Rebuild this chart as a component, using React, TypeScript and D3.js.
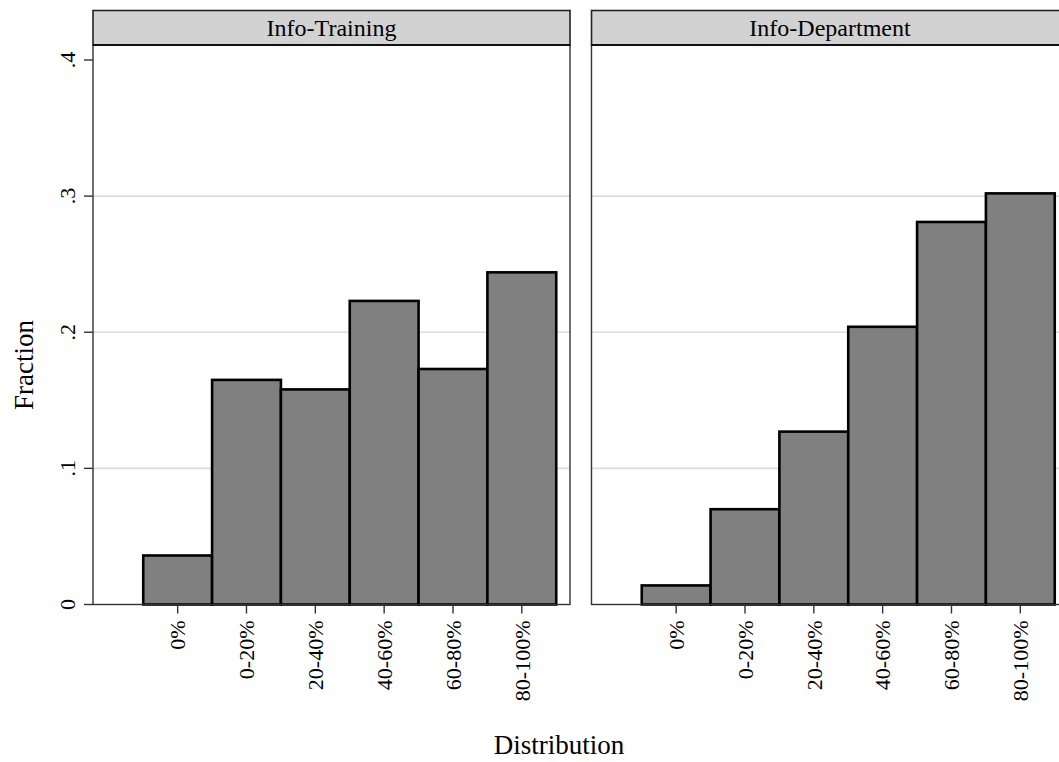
import React from "react";
import * as d3 from "d3";

const categories = ["0%", "0-20%", "20-40%", "40-60%", "60-80%", "80-100%"];
const trainingValues = [0.036, 0.165, 0.158, 0.223, 0.173, 0.244];
const departmentValues = [0.014, 0.07, 0.127, 0.204, 0.281, 0.302];
const panelTitles = ["Info-Training", "Info-Department"];
const yTicks = [0, 0.1, 0.2, 0.3, 0.4];
const yTickLabels = ["0", ".1", ".2", ".3", ".4"];
const gridTicks = [0.1, 0.2, 0.3];

const W = 1059;
const H = 762;
const FONT = "'Liberation Serif', 'Times New Roman', serif";

const panels = [
  { x0: 93, x1: 570, title: panelTitles[0], values: trainingValues, axis: true },
  { x0: 591.5, x1: 1068.5, title: panelTitles[1], values: departmentValues, axis: false },
];

const headerTop = 10.5;
const plotTop = 45;
const plotBottom = 604.5;

const y = d3.scaleLinear().domain([0, 0.411]).range([plotBottom, plotTop]);

function Panel({ p }: { p: typeof panels[0] }) {
  const x = d3.scaleLinear().domain([-1.23, 5.7]).range([p.x0, p.x1]);
  const bw = x(1) - x(0);
  return (
    <g>
      {/* gridlines */}
      {gridTicks.map((t) => (
        <line key={t} x1={p.x0} x2={p.x1} y1={y(t)} y2={y(t)} stroke="#dcdcdc" strokeWidth={1.6} />
      ))}
      {/* bars */}
      {p.values.map((v, i) => (
        <rect
          key={i}
          x={x(i) - bw / 2}
          y={y(v)}
          width={bw}
          height={y(0) - y(v)}
          fill="#808080"
          stroke="#000"
          strokeWidth={2.6}
        />
      ))}
      {/* frame */}
      <rect x={p.x0} y={plotTop} width={p.x1 - p.x0} height={plotBottom - plotTop} fill="none" stroke="#333" strokeWidth={1.4} />
      {/* header */}
      <rect x={p.x0} y={headerTop} width={p.x1 - p.x0} height={plotTop - headerTop} fill="#d2d2d2" stroke="#222" strokeWidth={1.6} />
      <line x1={p.x0} x2={p.x1} y1={plotTop} y2={plotTop} stroke="#111" strokeWidth={2.2} />
      <text x={(p.x0 + Math.min(p.x1, 1059 + (p.x1 - 1059))) / 2} y={28} dy="0.35em" textAnchor="middle" fontSize={24} fontFamily={FONT} fill="#000">
        {p.title}
      </text>
      {/* x ticks */}
      {categories.map((c, i) => (
        <g key={c}>
          <line x1={x(i)} x2={x(i)} y1={plotBottom} y2={plotBottom + 9} stroke="#333" strokeWidth={1.4} />
          <text
            transform={`translate(${x(i)},${plotBottom + 16}) rotate(-90)`}
            dy="0.35em"
            textAnchor="end"
            fontSize={22}
            fontFamily={FONT}
            fill="#000"
          >
            {c}
          </text>
        </g>
      ))}
      {/* y axis */}
      {p.axis &&
        yTicks.map((t, i) => (
          <g key={t}>
            <line x1={p.x0 - 9} x2={p.x0} y1={y(t)} y2={y(t)} stroke="#333" strokeWidth={1.4} />
            <text
              transform={`translate(${67},${y(t)}) rotate(-90)`}
              dy="0.35em"
              textAnchor="middle"
              fontSize={22}
              fontFamily={FONT}
              fill="#000"
            >
              {yTickLabels[i]}
            </text>
          </g>
        ))}
    </g>
  );
}

export default function App() {
  return (
    <svg width={W} height={H} style={{ position: "absolute", left: 0, top: 0 }}>
      <rect x={0} y={0} width={W} height={H} fill="#fff" />
      {panels.map((p) => (
        <Panel key={p.title} p={p} />
      ))}
      <text
        transform={`translate(24,365) rotate(-90)`}
        dy="0.35em"
        textAnchor="middle"
        fontSize={27}
        fontFamily={FONT}
        fill="#000"
      >
        Fraction
      </text>
      <text x={559} y={745} dy="0.35em" textAnchor="middle" fontSize={27} fontFamily={FONT} fill="#000">
        Distribution
      </text>
    </svg>
  );
}
